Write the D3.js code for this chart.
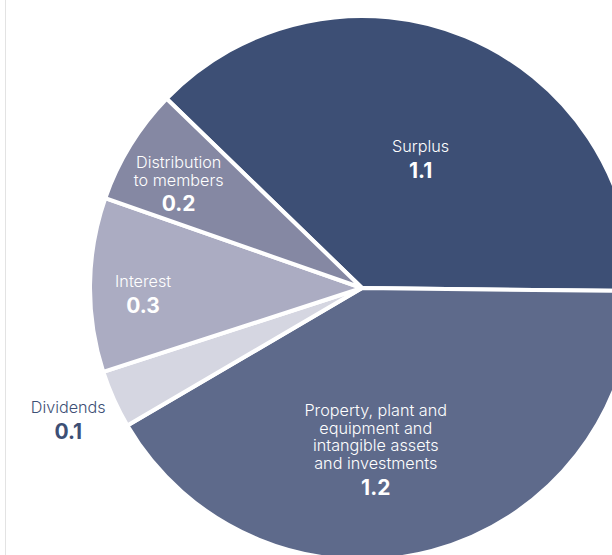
<!DOCTYPE html>
<html>
<head>
<meta charset="utf-8">
<script src="https://cdn.jsdelivr.net/npm/d3@7"></script>
<style>
  body { margin: 0; background: #fff; }
  #chart { width: 612px; height: 555px; overflow: hidden; }
  text { font-family: Inter, "Open Sans", sans-serif; }
</style>
</head>
<body>
<div id="chart"></div>
<script>
// data
const categories = ['Surplus', 'Property, plant and equipment and intangible assets and investments', 'Dividends', 'Interest', 'Distribution to members'];
const nameLines = [['Surplus'], ['Property, plant and', 'equipment and', 'intangible assets', 'and investments'], ['Dividends'], ['Interest'], ['Distribution', 'to members']];
const values = [1.1, 1.2, 0.1, 0.3, 0.2];
const valueLabels = ['1.1', '1.2', '0.1', '0.3', '0.2'];

const colors = ['#3d4f75', '#5e6a8b', '#d5d6e1', '#abacc2', '#8588a3'];
const textColors = ['#ffffff', '#ffffff', '#3d4f75', '#ffffff', '#ffffff'];
// label placement: radius and angle shift (degrees) from slice middle
const labelLayout = [{r: 142, da: 2}, {r: 162, da: 10}, {r: 322, da: 0}, {r: 219, da: -2.3}, {r: 211, da: -2}];

const width = 612;
const height = 555;
const cx = 362;
const cy = 288;
const radius = 272;

const svg = d3.select('#chart')
              .append('svg')
              .attr('width', width)
              .attr('height', height);

svg.append('line')
   .attr('x1', 5.5).attr('x2', 5.5)
   .attr('y1', 0).attr('y2', height)
   .attr('stroke', '#e3e3e3')
   .attr('stroke-width', 1);

const startAngle = -45.9 * Math.PI / 180;
const pie = d3.pie()
              .sort(null)
              .value(d => d)
              .startAngle(startAngle)
              .endAngle(startAngle + 2 * Math.PI);

const arcs = pie(values);
const arc = d3.arc().innerRadius(0).outerRadius(radius);

const g = svg.append('g')
             .attr('transform', 'translate(' + cx + ',' + cy + ')');

g.selectAll('path')
 .data(arcs)
 .enter()
 .append('path')
 .attr('d', arc)
 .attr('fill', (d, i) => colors[i])
 .attr('stroke', '#fff')
 .attr('stroke-width', 4)
 .attr('stroke-linejoin', 'round');

const labels = g.selectAll('g.label')
                .data(arcs)
                .enter()
                .append('g')
                .attr('class', 'label')
                .attr('transform', (d, i) => {
                  const mid = (d.startAngle + d.endAngle) / 2 + labelLayout[i].da * Math.PI / 180;
                  const r = labelLayout[i].r;
                  return 'translate(' + (Math.sin(mid) * r) + ',' + (-Math.cos(mid) * r) + ')';
                });

labels.each(function (d, i) {
  const lines = nameLines[i];
  const lh = 17.8;
  const total = lines.length * lh + 22;
  const top = -total / 2;
  const sel = d3.select(this);
  lines.forEach((t, j) => {
    sel.append('text')
       .attr('x', 0)
       .attr('y', top + j * lh + 13)
       .attr('text-anchor', 'middle')
       .attr('fill', textColors[i])
       .attr('font-size', 16.2)
       .attr('font-weight', 300)
       .text(t);
  });
  sel.append('text')
     .attr('x', 0)
     .attr('y', top + lines.length * lh + 21)
     .attr('text-anchor', 'middle')
     .attr('fill', textColors[i])
     .attr('font-size', 21)
     .attr('font-weight', 700)
     .text(valueLabels[i]);
});
</script>
</body>
</html>
